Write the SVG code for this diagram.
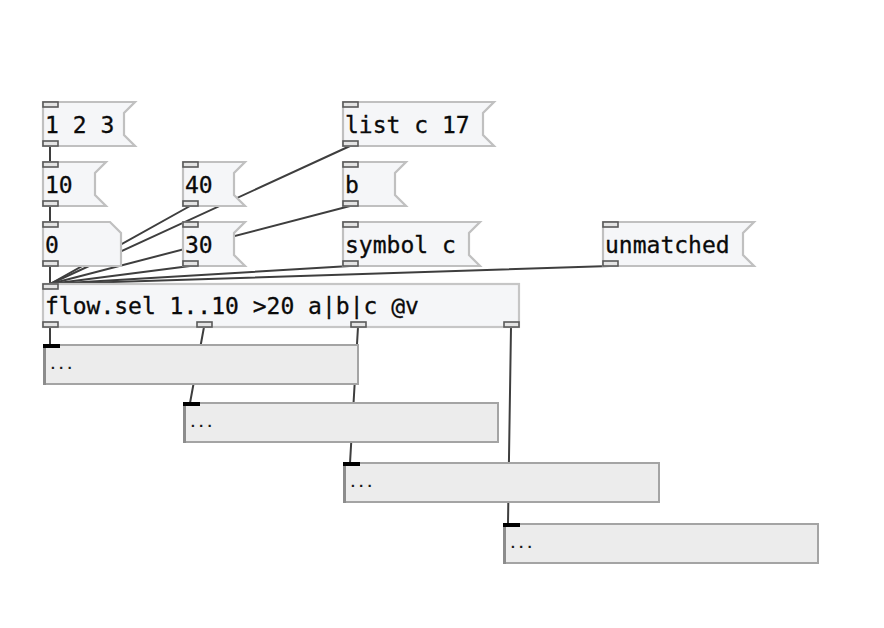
<svg xmlns="http://www.w3.org/2000/svg" width="884" height="628" viewBox="0 0 884 628">
  <style>
    .msg { fill: #f5f6f8; stroke: #c0c0c0; stroke-width: 2.2; }
    .obj { fill: #f5f6f8; stroke: #c6c6c6; stroke-width: 2.2; }
    .port { fill: #e4e4e4; stroke: #5a5a5a; stroke-width: 1.6; }
    .lbl { font-family: "DejaVu Sans Mono", "Liberation Mono", monospace; font-size: 23px; fill: #0a0a0a; stroke: #0a0a0a; stroke-width: 0.3; }
    .wire { stroke: #3e3e3e; stroke-width: 2; fill: none; stroke-linecap: round; }
    .disp { fill: #ececec; stroke: #a4a4a4; stroke-width: 2; }
    .edge { fill: #8c8c8c; }
    .bar { fill: #000; }
    .dots { font-family: "DejaVu Sans Mono", "Liberation Mono", monospace; font-size: 13px; font-weight: bold; letter-spacing: 0.5px; fill: #1a1a1a; }
  </style>
  <rect width="884" height="628" fill="#ffffff"/>

  <!-- patch cords -->
  <g id="connectors">
    <line class="wire" x1="50" y1="146" x2="50" y2="162"/>
    <line class="wire" x1="50" y1="206" x2="50" y2="222"/>
    <line class="wire" x1="50" y1="266" x2="50" y2="284"/>
    <line class="wire" x1="190" y1="206" x2="50" y2="284"/>
    <line class="wire" x1="350" y1="146" x2="50" y2="284"/>
    <line class="wire" x1="350" y1="206" x2="50" y2="284"/>
    <line class="wire" x1="190" y1="266" x2="50" y2="284"/>
    <line class="wire" x1="350" y1="266" x2="50" y2="284"/>
    <line class="wire" x1="610" y1="266" x2="50" y2="284"/>
    <line class="wire" x1="50" y1="327" x2="50" y2="345"/>
    <line class="wire" x1="204" y1="327" x2="190" y2="403"/>
    <line class="wire" x1="358" y1="327" x2="350" y2="463"/>
    <line class="wire" x1="511" y1="327" x2="508" y2="523"/>
  </g>

  <!-- message: 1 2 3 -->
  <g id="msg-123">
    <path class="msg" d="M43,102 H135 L124,113 V135 L135,146 H43 Z"/>
    <rect class="port" x="43" y="102" width="15" height="5"/>
    <rect class="port" x="43" y="141" width="15" height="5"/>
    <text class="lbl" x="45" y="133">1 2 3</text>
  </g>

  <!-- message: list c 17 -->
  <g id="msg-list">
    <path class="msg" d="M343,102 H494 L483,113 V135 L494,146 H343 Z"/>
    <rect class="port" x="343" y="102" width="15" height="5"/>
    <rect class="port" x="343" y="141" width="15" height="5"/>
    <text class="lbl" x="345" y="133">list c 17</text>
  </g>

  <!-- message: 10 -->
  <g id="msg-10">
    <path class="msg" d="M43,162 H106 L95,173 V195 L106,206 H43 Z"/>
    <rect class="port" x="43" y="162" width="15" height="5"/>
    <rect class="port" x="43" y="201" width="15" height="5"/>
    <text class="lbl" x="45" y="193">10</text>
  </g>

  <!-- message: 40 -->
  <g id="msg-40">
    <path class="msg" d="M183,162 H245 L234,173 V195 L245,206 H183 Z"/>
    <rect class="port" x="183" y="162" width="15" height="5"/>
    <rect class="port" x="183" y="201" width="15" height="5"/>
    <text class="lbl" x="185" y="193">40</text>
  </g>

  <!-- message: b -->
  <g id="msg-b">
    <path class="msg" d="M343,162 H406 L395,173 V195 L406,206 H343 Z"/>
    <rect class="port" x="343" y="162" width="15" height="5"/>
    <rect class="port" x="343" y="201" width="15" height="5"/>
    <text class="lbl" x="345" y="193">b</text>
  </g>

  <!-- number atom: 0 -->
  <g id="atom-0">
    <path class="msg" d="M43,222 H110 L121,233 V266 H43 Z"/>
    <rect class="port" x="43" y="222" width="15" height="5"/>
    <rect class="port" x="43" y="261" width="15" height="5"/>
    <text class="lbl" x="45" y="253">0</text>
  </g>

  <!-- message: 30 -->
  <g id="msg-30">
    <path class="msg" d="M183,222 H245 L234,233 V255 L245,266 H183 Z"/>
    <rect class="port" x="183" y="222" width="15" height="5"/>
    <rect class="port" x="183" y="261" width="15" height="5"/>
    <text class="lbl" x="185" y="253">30</text>
  </g>

  <!-- message: symbol c -->
  <g id="msg-symbol">
    <path class="msg" d="M343,222 H480 L469,233 V255 L480,266 H343 Z"/>
    <rect class="port" x="343" y="222" width="15" height="5"/>
    <rect class="port" x="343" y="261" width="15" height="5"/>
    <text class="lbl" x="345" y="253">symbol c</text>
  </g>

  <!-- message: unmatched -->
  <g id="msg-unmatched">
    <path class="msg" d="M603,222 H754 L743,233 V255 L754,266 H603 Z"/>
    <rect class="port" x="603" y="222" width="15" height="5"/>
    <rect class="port" x="603" y="261" width="15" height="5"/>
    <text class="lbl" x="605" y="253">unmatched</text>
  </g>

  <!-- object: flow.sel -->
  <g id="obj-flowsel">
    <rect class="obj" x="43" y="284" width="476" height="43"/>
    <rect class="port" x="43" y="284" width="15" height="5"/>
    <rect class="port" x="43" y="322" width="15" height="5"/>
    <rect class="port" x="197" y="322" width="15" height="5"/>
    <rect class="port" x="351" y="322" width="15" height="5"/>
    <rect class="port" x="504" y="322" width="15" height="5"/>
    <text class="lbl" x="45" y="314">flow.sel 1..10 &gt;20 a|b|c @v</text>
  </g>

  <!-- list displays -->
  <g id="disp-1">
    <rect class="disp" x="44" y="345" width="314" height="39"/>
    <rect class="edge" x="43" y="344" width="3" height="41"/>
    <rect class="bar" x="43" y="344" width="17" height="4"/>
    <text class="dots" x="49" y="369">...</text>
  </g>
  <g id="disp-2">
    <rect class="disp" x="184" y="403" width="314" height="39"/>
    <rect class="edge" x="183" y="402" width="3" height="41"/>
    <rect class="bar" x="183" y="402" width="17" height="4"/>
    <text class="dots" x="189" y="427">...</text>
  </g>
  <g id="disp-3">
    <rect class="disp" x="344" y="463" width="315" height="39"/>
    <rect class="edge" x="343" y="462" width="3" height="41"/>
    <rect class="bar" x="343" y="462" width="17" height="4"/>
    <text class="dots" x="349" y="487">...</text>
  </g>
  <g id="disp-4">
    <rect class="disp" x="504" y="524" width="314" height="39"/>
    <rect class="edge" x="503" y="523" width="3" height="41"/>
    <rect class="bar" x="503" y="523" width="17" height="4"/>
    <text class="dots" x="509" y="548">...</text>
  </g>
</svg>
